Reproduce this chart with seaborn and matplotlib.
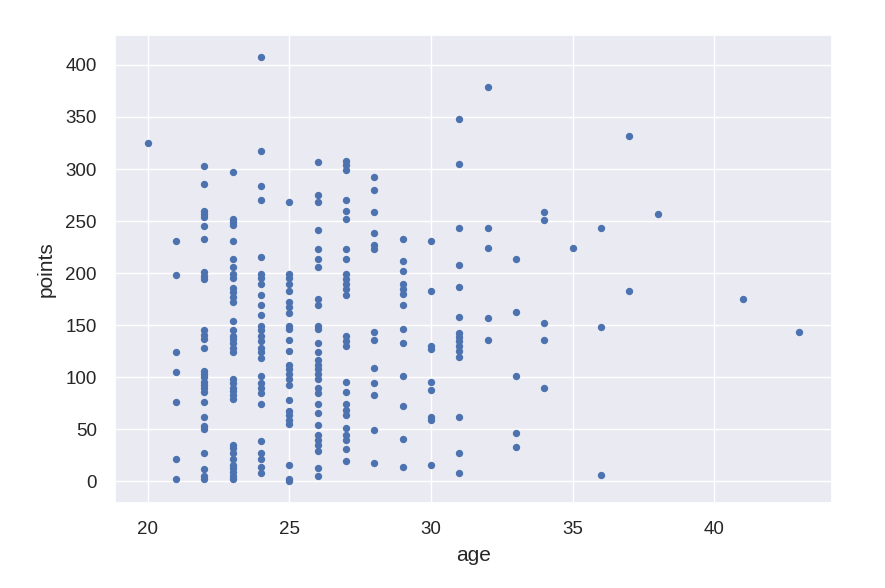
import numpy as np
import pandas as pd
import matplotlib
matplotlib.use("Agg")
import matplotlib.pyplot as plt
import seaborn as sns

p20 = [325]
p21 = [231, 198, 124, 105, 76, 22, 2]
p22 = [303, 286, 260, 257, 254, 245, 233, 201, 197, 194, 145, 141, 137, 128,
       106, 103, 100, 96, 93, 90, 86, 76, 62, 53, 50, 27, 12, 5, 2]
p23 = [297, 252, 249, 246, 231, 214, 206, 199, 195, 186, 182, 177, 172, 154,
       145, 140, 137, 133, 128, 124, 98, 95, 90, 87, 83, 79, 35, 32, 27, 22,
       16, 13, 9, 5, 2]
p24 = [408, 317, 284, 270, 216, 199, 195, 190, 179, 169, 160, 149, 145, 140,
       135, 128, 124, 119, 101, 95, 90, 85, 74, 39, 27, 22, 14, 8]
p25 = [268, 199, 195, 190, 183, 172, 168, 162, 149, 146, 136, 125, 112, 108,
       103, 98, 93, 78, 68, 64, 59, 55, 16, 2, 0]
p26 = [307, 275, 268, 241, 223, 214, 206, 175, 169, 149, 146, 133, 124, 117,
       112, 108, 103, 98, 90, 85, 74, 66, 54, 45, 40, 35, 29, 13, 5]
p27 = [308, 304, 299, 270, 260, 252, 223, 214, 199, 194, 190, 185, 179, 140,
       135, 130, 96, 86, 74, 69, 64, 51, 45, 40, 31, 20]
p28 = [292, 280, 259, 239, 227, 223, 144, 136, 109, 95, 83, 49, 18]
p29 = [233, 212, 202, 190, 185, 180, 169, 146, 133, 101, 72, 41, 14]
p30 = [231, 183, 130, 127, 96, 88, 62, 59, 16]
p31 = [348, 305, 243, 208, 187, 158, 143, 139, 135, 130, 125, 120, 62, 27, 8]
p32 = [379, 243, 224, 157, 136]
p33 = [214, 163, 101, 47, 33]
p34 = [259, 251, 152, 136, 90]
p35 = [224]
p36 = [243, 148, 6]
p37 = [332, 183]
p38 = [257]
p41 = [175]
p43 = [144]

by_age = {20: p20, 21: p21, 22: p22, 23: p23, 24: p24, 25: p25, 26: p26,
          27: p27, 28: p28, 29: p29, 30: p30, 31: p31, 32: p32, 33: p33,
          34: p34, 35: p35, 36: p36, 37: p37, 38: p38, 41: p41, 43: p43}

rows = []
for a, pts in by_age.items():
    for p in pts:
        rows.append((a, p))
df = pd.DataFrame(rows, columns=["age", "points"])

sns.set_theme(style="darkgrid")
plt.rcParams['font.family'] = ['Liberation Sans', 'DejaVu Sans']

fig = plt.figure(figsize=(8.85, 5.88), dpi=100)
ax = fig.add_axes([0.130, 0.145, 0.810, 0.795])
sns.scatterplot(data=df, x="age", y="points", ax=ax, color="#4C72B0",
                s=28, linewidth=0)
ax.set_xticks([20, 25, 30, 35, 40])
ax.set_yticks(np.arange(0, 401, 50))
ax.tick_params(labelsize=13.5, colors=".15", length=0, pad=13)
ax.set_xlabel("age", fontsize=15, color=".15", labelpad=6)
ax.set_ylabel("points", fontsize=15, color=".15", labelpad=7)

fig.savefig("out.png", dpi=100)
